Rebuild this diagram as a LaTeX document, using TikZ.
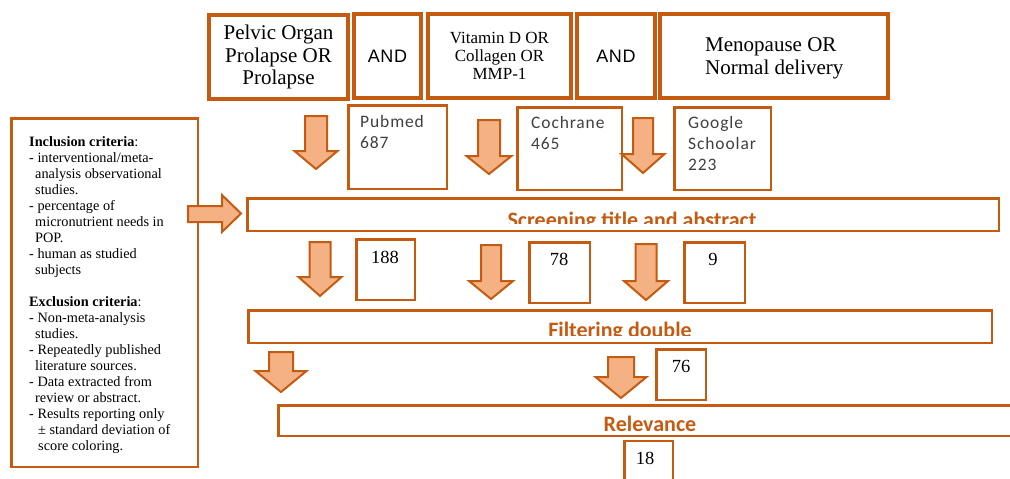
\documentclass[tikz,border=0pt]{standalone}
\usepackage{fontspec}
\setmainfont{Liberation Serif}
\newfontfamily\calsp[LetterSpace=5]{Carlito}
\newfontfamily\calfont{Carlito}
\newfontfamily\arialsp[LetterSpace=4]{Liberation Sans}
\definecolor{orn}{HTML}{C55A11}
\definecolor{ornl}{HTML}{F4B183}
\definecolor{txtgray}{HTML}{404040}
\newcommand\DArr[6]{\draw[blk] (#1-#5,#2) -- (#1+#5,#2) -- (#1+#5,#3) -- (#1+#6,#3) -- (#1,#4) -- (#1-#6,#3) -- (#1-#5,#3) -- cycle;}
\begin{document}
\begin{tikzpicture}[x=1pt,y=-1pt,
  topbox/.style={draw=orn, line width=4pt, inner sep=0pt, align=center},
  smbox/.style={draw=orn, line width=2.5pt, inner sep=0pt},
  blk/.style={fill=ornl, draw=orn, line width=2pt, line join=miter},
  serbig/.style={font=\fontsize{21}{22.5}\selectfont},
  srctxt/.style={font=\calsp\fontsize{17.5}{21}\selectfont, text=txtgray, align=left, inner sep=0pt},
  bartxt/.style={font=\calfont\bfseries\fontsize{22}{24}\selectfont, text=orn, inner sep=0pt},
  numtxt/.style={font=\fontsize{18.5}{20}\selectfont, inner sep=0pt}]
\useasboundingbox (0,0) rectangle (1010,479);
\clip (0,0) rectangle (1010,479);
% top query boxes
\node[topbox, serbig, minimum width=139pt, minimum height=84pt] (q1) at (278.5,57) {Pelvic Organ\\Prolapse OR\\Prolapse};
\node[topbox, font=\arialsp\fontsize{18}{20}\selectfont, minimum width=67pt, minimum height=84pt] (q2) at (387.5,56) {AND};
\node[topbox, font=\fontsize{17}{18}\selectfont, minimum width=143pt, minimum height=84pt] (q3) at (499.5,56) {Vitamin D OR\\Collagen OR\\MMP-1};
\node[topbox, font=\arialsp\fontsize{18}{20}\selectfont, minimum width=78pt, minimum height=84pt] (q4) at (616,56) {AND};
\node[topbox, minimum width=228pt, minimum height=84pt] (q5) at (774,56) {};
\node[serbig, align=left, inner sep=0pt, anchor=base west] (q5t) at (705,74) {Menopause OR\\Normal delivery};
% source boxes
\node[smbox, minimum width=98.5pt, minimum height=83.5pt] (pub) at (397.5,147) {};
\node[smbox, minimum width=104.5pt, minimum height=82.5pt] (coch) at (569.5,148.5) {};
\node[smbox, minimum width=96.5pt, minimum height=82.5pt] (goog) at (722.5,148.5) {};
\node[srctxt, anchor=base west] (pubt) at (360,148) {Pubmed\\687};
\node[srctxt, anchor=base west] (cocht) at (531,149) {Cochrane\\465};
\node[srctxt, anchor=base west] (googt) at (688,170) {Google\\Schoolar\\223};
% criteria box
\node[smbox, minimum width=186.5pt, minimum height=348.5pt] (crit) at (104.5,292.5) {};
\node[font=\fontsize{14.3}{16}\selectfont, align=left, inner sep=0pt, anchor=base west] (critt) at (29,450.5) {%
\textbf{Inclusion criteria}:\\
- interventional/meta-\\
\hspace*{6pt}analysis observational\\
\hspace*{6pt}studies.\\
- percentage of\\
\hspace*{6pt}micronutrient needs in\\
\hspace*{6pt}POP.\\
- human as studied\\
\hspace*{6pt}subjects\\[16pt]
\textbf{Exclusion criteria}:\\
- Non-meta-analysis\\
\hspace*{6pt}studies.\\
- Repeatedly published\\
\hspace*{6pt}literature sources.\\
- Data extracted from\\
\hspace*{6pt}review or abstract.\\
- Results reporting only\\
\hspace*{9pt}± standard deviation of\\
\hspace*{9pt}score coloring.};
% bars
\node[smbox, minimum width=751.5pt, minimum height=32.5pt] (scr) at (623,214.5) {};
\begin{scope}
\clip (246,197) rectangle (1000,223.5);
\node[bartxt, anchor=base] (scrt) at (632,227) {Screening title and abstract};
\end{scope}
\node[smbox, minimum width=743.5pt, minimum height=32.5pt] (filt) at (620,326.5) {};
\begin{scope}
\clip (247,309) rectangle (993,335.5);
\node[bartxt, anchor=base] (filtt) at (620,337) {Filtering double};
\end{scope}
\node[smbox, minimum width=744.5pt, minimum height=30.5pt] (rel) at (650.5,420.5) {};
\node[bartxt, anchor=base] (relt) at (650,431) {Relevance};
% count boxes
\node[smbox, minimum width=58.5pt, minimum height=60.5pt] (n188) at (385.5,269.5) {};
\node[smbox, minimum width=60.5pt, minimum height=60.5pt] (n78) at (559.5,272.5) {};
\node[smbox, minimum width=60.5pt, minimum height=60.5pt] (n9) at (714.5,272.5) {};
\node[smbox, minimum width=49.5pt, minimum height=50.5pt] (n76) at (681,374.5) {};
\node[smbox, minimum width=48.5pt, minimum height=50pt] (n18) at (648.5,466) {};
\node[numtxt, anchor=base] (t188) at (385,263) {188};
\node[numtxt, anchor=base] (t78) at (559,265) {78};
\node[numtxt, anchor=base] (t9) at (713,265) {9};
\node[numtxt, anchor=base] (t76) at (681,372) {76};
\node[numtxt, anchor=base] (t18) at (645,464) {18};
% block arrows
\DArr{316}{116}{151}{169}{11}{21.5}
\DArr{489}{120}{156}{174}{11}{22.5}
\DArr{643}{118}{154}{173}{10}{21.5}
\DArr{320}{242}{277}{296}{10.5}{21.5}
\DArr{491}{245}{281}{299}{10}{22}
\DArr{646}{244}{281}{300}{10.5}{22}
\DArr{281}{352}{371}{392}{12}{25.5}
\DArr{621}{357}{377}{398}{13}{25.5}
\draw[blk] (188,206) -- (222,206) -- (222,195) -- (241,213.5) -- (222,232) -- (222,222) -- (188,222) -- cycle;
\end{tikzpicture}
\end{document}
